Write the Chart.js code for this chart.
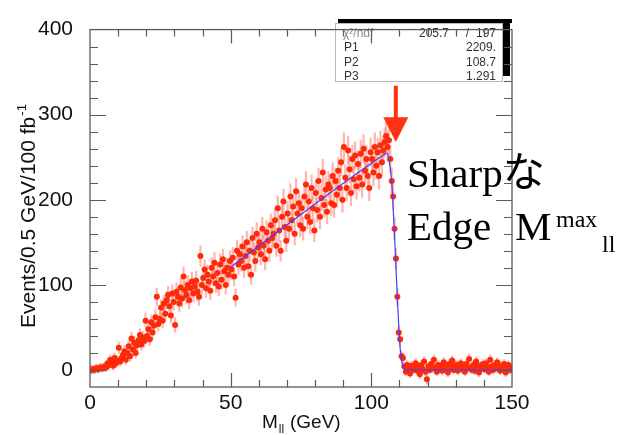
<!DOCTYPE html>
<html>
<head>
<meta charset="utf-8">
<script src="https://cdn.jsdelivr.net/npm/chart.js@4.4.1/dist/chart.umd.min.js"></script>
<style>
  html, body { margin: 0; padding: 0; background: #fff; }
  #wrap { width: 619px; height: 435px; }
</style>
</head>
<body>
<div id="wrap"><canvas id="mllChart" width="619" height="435"></canvas></div>
<script>
// dilepton mass histogram, 0.5 GeV bins from 0 to 150 GeV
const binStart = 0;
const binWidth = 0.5;
const eventCounts = [
    0, 1, 0, 1, 2, 1, 2, 3, 2, 3,               // 0 - 5
    4, 3, 8, 6, 12, 9, 5, 14, 8, 11,            // 5 - 10
    26, 10, 14, 18, 22, 12, 20, 28, 16, 37,     // 10 - 15
    24, 32, 20, 29, 35, 41, 30, 38, 34, 58,     // 15 - 20
    40, 48, 36, 56, 44, 52, 62, 86, 54, 60,     // 20 - 25
    73, 58, 78, 66, 82, 88, 75, 64, 90, 80,     // 25 - 30
    53, 92, 86, 78, 97, 84, 110, 94, 88, 100,   // 30 - 35
    82, 96, 104, 90, 98, 105, 92, 86, 134, 100, // 35 - 40
    108, 118, 96, 112, 104, 93, 120, 110, 126, 102,
    114, 98, 124, 106, 130, 116, 100, 120, 112, 128,
    118, 132, 110, 85, 140, 124, 136, 128, 145, 120,   // 50 - 55
    134, 150, 122, 140, 112, 155, 138, 128, 160, 144,
    150, 136, 166, 146, 130, 162, 152, 140, 170, 155,
    160, 176, 146, 190, 164, 140, 180, 198, 168, 152,
    184, 166, 204, 176, 192, 160, 210, 184, 196, 170,  // 70 - 75
    190, 166, 204, 218, 180, 198, 174, 214, 190, 164,
    208, 188, 222, 180, 202, 232, 194, 212, 186, 218,
    214, 196, 228, 194, 222, 206, 234, 214, 244, 200,
    262, 226, 214, 258, 236, 208, 248, 224, 252, 216,  // 90 - 95
    242, 226, 254, 218, 260, 234, 248, 228, 214, 256,
    248, 232, 262, 240, 256, 228, 264, 244, 258, 268,
    275, 262, 270, 248, 222, 204, 166, 131, 86, 44,    // 105 - 110 (edge)
    36, 16, 14, 4, -2, 6, 1, -4, 5, 0,
    3, 8, -1, 4, -5, 6, 1, 10, -2, -11,
    4, 0, 7, 2, 12, 3, -2, 6, 1, 5,
    -1, 9, 2, 4, -3, 7, 3, 11, 0, 5,
    6, -1, 4, 8, 1, 5, -2, 7, 2, 13,
    3, 0, 6, -1, 10, 4, -3, 5, 2, 7,
    1, 8, 3, -2, 12, 4, 0, 6, 2, 9,
    4, -1, 5, 1, 7, -3, 3, 6, 0, 2              // 145 - 150
];

// fitted edge curve
const fitMass   = [50, 105, 105.5, 106.1, 106.6, 107.2, 107.7, 108.2, 108.7, 109.2, 109.8, 110.4, 111, 111.6, 112.3, 150];
const fitEvents = [121, 254, 255, 250, 240, 222, 195, 160, 125, 88, 48, 20, 7, 2, 0, 0];

// fit statistics box
const chi2 = '205.7';
const ndf = '197';
const parNames = ['P1', 'P2', 'P3'];
const parValues = ['2209.', '108.7', '1.291'];
const edgeMass = 108.7;

// labelled ticks
const xLabelValues = [0, 50, 100, 150];
const yLabelValues = [0, 100, 200, 300, 400];

const histPoints = eventCounts.map((v, i) => ({ x: binStart + (i + 0.5) * binWidth, y: v }));
const fitPoints = fitMass.map((m, i) => ({ x: m, y: fitEvents[i] }));

const SANS = '"Liberation Sans", Arial, Helvetica, sans-serif';
const SERIF = '"Liberation Serif", "Times New Roman", serif';

// poisson-like error bars under the markers
const errorBars = {
    id: 'errorBars',
    beforeDatasetsDraw(chart) {
        const { ctx, chartArea, scales: { x, y } } = chart;
        ctx.save();
        ctx.beginPath();
        ctx.rect(chartArea.left, chartArea.top, chartArea.width, chartArea.height);
        ctx.clip();
        ctx.strokeStyle = 'rgba(255, 110, 95, 0.5)';
        ctx.lineWidth = 2.2;
        histPoints.forEach(p => {
            const err = Math.sqrt(Math.abs(p.y) + 25);
            const px = x.getPixelForValue(p.x);
            ctx.beginPath();
            ctx.moveTo(px, y.getPixelForValue(p.y - err));
            ctx.lineTo(px, y.getPixelForValue(p.y + err));
            ctx.stroke();
        });
        ctx.restore();
    }
};

// frame, inward ticks, titles, stats box and the edge annotation
const decorations = {
    id: 'decorations',
    afterDraw(chart) {
        const { ctx, chartArea: a, scales: { x, y } } = chart;
        ctx.save();

        // stats box with its dark shadow
        ctx.fillStyle = '#000';
        ctx.fillRect(338, 19, 174, 4);
        ctx.fillRect(503, 19, 7, 57);
        ctx.fillStyle = '#fff';
        ctx.fillRect(335, 23, 168, 59);
        ctx.strokeStyle = '#b8b8b8';
        ctx.lineWidth = 1;
        ctx.strokeRect(335.5, 23.5, 167, 58);

        ctx.font = '12px ' + SANS;
        ctx.textBaseline = 'alphabetic';
        ctx.fillStyle = '#888';
        ctx.textAlign = 'left';
        ctx.fillText('χ²/ndf', 343, 37);
        ctx.fillStyle = '#333';
        ctx.textAlign = 'right';
        ctx.fillText(chi2, 449, 37);
        ctx.fillText('/', 469, 37);
        ctx.fillText(ndf, 496, 37);
        parNames.forEach((n, i) => {
            const by = 51 + i * 14.5;
            ctx.textAlign = 'left';
            ctx.fillText(n, 344, by);
            ctx.textAlign = 'right';
            ctx.fillText(parValues[i], 496, by);
        });

        // frame
        ctx.strokeStyle = '#5a5a5a';
        ctx.lineWidth = 1.3;
        ctx.strokeRect(a.left, a.top, a.width, a.height);

        // inward ticks
        ctx.lineWidth = 1.2;
        ctx.beginPath();
        for (let v = 10; v < 150; v += 10) {
            const len = v % 50 === 0 ? 14 : 7;
            const px = Math.round(x.getPixelForValue(v)) + 0.5;
            ctx.moveTo(px, a.bottom); ctx.lineTo(px, a.bottom - len);
            ctx.moveTo(px, a.top); ctx.lineTo(px, a.top + len);
        }
        for (let v = 0; v < 400; v += 20) {
            const len = v % 100 === 0 ? 16 : 8;
            const py = Math.round(y.getPixelForValue(v)) + 0.5;
            ctx.moveTo(a.left, py); ctx.lineTo(a.left + len, py);
            ctx.moveTo(a.right, py); ctx.lineTo(a.right - len, py);
        }
        ctx.stroke();

        // axis titles
        ctx.fillStyle = '#111';
        ctx.textAlign = 'left';
        ctx.font = '19px ' + SANS;
        ctx.fillText('M', 262, 428);
        const mW = ctx.measureText('M').width;
        ctx.font = '12px ' + SANS;
        ctx.fillText('ll', 262 + mW + 1, 433);
        ctx.font = '19px ' + SANS;
        ctx.fillText('(GeV)', 290, 428);

        ctx.save();
        ctx.translate(35, 328);
        ctx.rotate(-Math.PI / 2);
        ctx.font = '21px ' + SANS;
        const yt = 'Events/0.5 GeV/100 fb';
        ctx.fillText(yt, 0, 0);
        const ytW = ctx.measureText(yt).width;
        ctx.font = '13px ' + SANS;
        ctx.fillText('-1', ytW + 1, -9);
        ctx.restore();

        // red arrow pointing at the edge
        const ax = x.getPixelForValue(edgeMass);
        ctx.fillStyle = '#ff3311';
        ctx.fillRect(ax - 2, y.getPixelForValue(334), 4, y.getPixelForValue(297) - y.getPixelForValue(334) + 1);
        ctx.beginPath();
        ctx.moveTo(ax - 12.5, y.getPixelForValue(297));
        ctx.lineTo(ax + 12.5, y.getPixelForValue(297));
        ctx.lineTo(ax, y.getPixelForValue(268));
        ctx.closePath();
        ctx.fill();

        // annotation
        ctx.fillStyle = '#000';
        ctx.font = '41px ' + SERIF;
        ctx.fillText('Sharp', 407, 187);
        const sw = ctx.measureText('Sharp').width;
        ctx.font = '42px "Noto Sans CJK JP", sans-serif';
        ctx.fillText('な', 407 + sw, 187);
        ctx.font = '41px ' + SERIF;
        ctx.fillText('Edge', 407, 240);
        ctx.fillText('M', 515, 240);
        ctx.font = '24px ' + SERIF;
        ctx.fillText('max', 556, 227);
        ctx.fillText('ll', 602, 252);

        ctx.restore();
    }
};

new Chart(document.getElementById('mllChart'), {
    type: 'scatter',
    data: {
        datasets: [
            {
                label: 'fit',
                data: fitPoints,
                showLine: true,
                borderColor: '#4040ff',
                borderWidth: 1.2,
                pointRadius: 0,
                cubicInterpolationMode: 'monotone',
                order: 0
            },
            {
                label: 'data',
                data: histPoints,
                backgroundColor: '#ff2a0a',
                borderWidth: 0,
                pointRadius: 3,
                order: 1
            }
        ]
    },
    options: {
        responsive: false,
        animation: false,
        events: [],
        layout: { padding: { top: 17, right: 107, left: 0, bottom: 0 } },
        plugins: {
            legend: { display: false },
            tooltip: { enabled: false }
        },
        scales: {
            x: {
                type: 'linear',
                min: 0,
                max: 150,
                grid: { display: false, drawTicks: false },
                border: { display: false },
                afterFit: s => { s.height = 48; },
                ticks: {
                    stepSize: 10,
                    autoSkip: false,
                    maxRotation: 0,
                    padding: 4,
                    color: '#111',
                    font: { family: SANS, size: 21 },
                    callback: v => xLabelValues.includes(v) ? v : ''
                }
            },
            y: {
                type: 'linear',
                min: -20,
                max: 400,
                grid: { display: false, drawTicks: false },
                border: { display: false },
                afterFit: s => { s.width = 90; },
                ticks: {
                    stepSize: 20,
                    autoSkip: false,
                    padding: 17,
                    color: '#111',
                    font: { family: SANS, size: 21 },
                    callback: v => yLabelValues.includes(v) ? v : ''
                }
            }
        }
    },
    plugins: [errorBars, decorations]
});
</script>
</body>
</html>
